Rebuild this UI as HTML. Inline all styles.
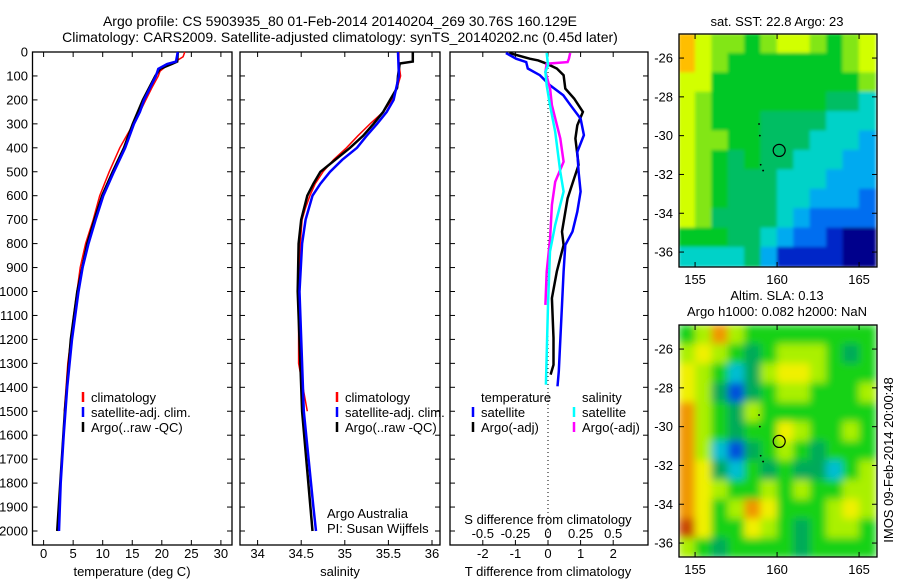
<!DOCTYPE html>
<html><head><meta charset="utf-8"><style>
body{margin:0;background:#fff;}
svg text{font-family:"Liberation Sans",sans-serif;fill:#000;}
</style></head><body>
<svg id="fig" width="900" height="580" viewBox="0 0 900 580" xmlns="http://www.w3.org/2000/svg">
<defs>
<filter id="blur1" x="0" y="0" width="1" height="1"><feGaussianBlur stdDeviation="1.5" edgeMode="duplicate"/></filter>
<filter id="blur2" x="0" y="0" width="1" height="1"><feGaussianBlur stdDeviation="4" edgeMode="duplicate"/></filter>
<clipPath id="clipM1"><rect x="679" y="34" width="198" height="233"/></clipPath>
<clipPath id="clipM2"><rect x="679" y="325" width="198" height="232"/></clipPath>
</defs>
<text x="340" y="26" font-size="14" text-anchor="middle">Argo profile: CS 5903935_80 01-Feb-2014 20140204_269 30.76S 160.129E</text>
<text x="340" y="42" font-size="14" text-anchor="middle">Climatology: CARS2009. Satellite-adjusted climatology: synTS_20140202.nc (0.45d later)</text>
<g id="g"></g>
</svg>
<script>
// ---------- data ----------
const tClimDepth=[0,20,40,60,80,100,150,200,250,300,400,500,600,700,800,900,1000,1100,1200,1300,1400,1500];
const tClim=[23.9,23.6,22.3,20.7,19.7,19.4,18.3,17.3,16.3,15.2,12.9,11.1,9.5,8.4,7.1,6.2,5.65,5.1,4.6,4.1,3.8,3.5];
const tSatDepth=[0,40,50,70,100,150,200,250,300,400,500,600,700,800,900,1000,1200,1400,1600,1800,2000];
const tSat=[22.7,22.4,20.9,19.4,19.0,18.0,17.0,16.3,15.3,13.8,11.9,10.1,8.8,7.6,6.6,5.9,4.8,4.0,3.4,2.9,2.6];
const tArgoDepth=[0,40,50,70,100,200,300,400,500,600,700,800,1000,1200,1500,2000];
const tArgo=[22.7,22.6,21.7,19.7,18.9,16.8,15.1,13.6,11.7,9.9,8.6,7.4,5.7,4.6,3.6,2.3];
const sClimDepth=[0,50,100,150,200,250,300,350,400,450,500,550,600,650,700,800,900,1000,1300,1500];
const sClim=[35.62,35.62,35.64,35.60,35.54,35.44,35.29,35.15,35.02,34.87,34.75,34.66,34.60,34.55,34.51,34.49,34.48,34.47,34.47,34.57];
const sArgoDepth=[0,40,48,100,150,200,250,300,350,400,450,500,550,600,700,800,1000,1500,2000];
const sArgo=[35.78,35.78,35.63,35.61,35.60,35.52,35.44,35.33,35.21,35.06,34.89,34.72,34.64,34.57,34.50,34.47,34.46,34.51,34.63];
const sSatDepth=[0,100,200,250,300,350,400,450,500,550,600,700,800,1000,1500,1900,2000];
const sSat=[35.61,35.62,35.56,35.48,35.37,35.25,35.14,34.97,34.83,34.72,34.63,34.55,34.51,34.48,34.53,34.64,34.67];
const dTsatDepth=[4,28,42,69,97,139,181,222,278,347,417,500,583,667,750,806,917,1056,1194,1333,1396];
const dTsat=[-1.29,-0.98,-0.67,-0.62,-0.25,0.06,0.47,0.69,1.0,1.1,0.9,0.94,1.0,0.9,0.75,0.53,0.48,0.43,0.38,0.33,0.29];
const dTargoDepth=[4,28,35,49,69,97,153,194,250,306,361,472,528,611,750,806,917,1028,1194,1306,1347];
const dTargo=[-1.19,-0.56,-0.3,-0.04,0.27,0.48,0.53,0.8,1.07,0.9,0.84,0.94,0.8,0.6,0.43,0.48,0.27,0.12,0.17,0.17,0.08];
const dSsatDepth=[4,56,83,139,222,333,500,583,722,833,1056,1389];
const dSsat=[-0.01,0,-0.02,-0.01,0.015,0.055,0.094,0.12,0.055,0.015,0,-0.016];
const dSargoDepth=[4,28,42,49,83,153,222,361,458,542,639,778,917,1056];
const dSargo=[0.17,0.16,0.15,-0.01,-0.02,0.016,0.03,0.094,0.12,0.055,0.03,0.016,-0.01,-0.02];
const depthTicks=[0,100,200,300,400,500,600,700,800,900,1000,1100,1200,1300,1400,1500,1600,1700,1800,1900,2000];
const tempTicks=[0,5,10,15,20,25,30];
const salTicks=[34,34.5,35,35.5,36];
const dTTicks=[-2,-1,0,1,2];
const dSTicks=[-0.5,-0.25,0,0.25,0.5];
const latTicks=[-26,-28,-30,-32,-34,-36];
const lonTicks=[155,160,165];
const sstGrid=[
[9,8,7,7,6,7,8,8,7,6,7,8],
[9,8,7,6,6,6,6,6,6,6,7,8],
[8,8,6,6,6,6,6,6,6,6,6,7],
[8,7,6,6,6,6,6,6,6,5,5,4],
[8,7,6,6,6,5,5,5,5,4,4,4],
[8,7,7,6,6,5,5,5,4,4,4,3],
[8,7,6,5,6,5,5,4,4,4,3,3],
[8,7,6,5,5,5,4,4,4,3,3,3],
[8,7,6,5,5,5,4,4,3,3,3,2],
[8,7,5,5,5,5,4,3,2,2,2,2],
[6,6,6,5,5,4,3,2,2,1,0,0],
[4,4,4,4,5,3,1,1,1,1,0,0]];
const slaGrid=[
[3,4,6,4,3,3,3,3,3,3,3,3],
[4,5,4,3,2,3,4,4,4,3,2,3],
[5,4,3,1,2,4,5,5,4,3,3,3],
[5,4,2,0,2,3,4,4,3,3,3,4],
[6,4,3,2,4,3,3,3,3,3,3,3],
[6,4,3,2,3,3,5,4,3,3,4,3],
[6,4,1,0,2,3,4,3,2,3,3,3],
[6,5,2,1,3,2,3,2,2,1,3,4],
[6,5,4,3,3,4,3,4,3,3,4,4],
[6,5,3,4,6,5,3,3,3,4,5,4],
[7,5,3,3,5,4,3,2,3,4,4,3],
[4,3,2,3,3,3,3,2,3,3,3,3]];
const argoLon=160.129, argoLat=-30.76;

// ---------- axes ----------
const NS="http://www.w3.org/2000/svg";
const G=document.getElementById('g');
function el(tag,attrs,parent){const e=document.createElementNS(NS,tag);for(const k in attrs)e.setAttribute(k,attrs[k]);(parent||G).appendChild(e);return e;}
const TOP=52, BOT=545;
const yD=d=>TOP+d*0.2395;
const xT=t=>43.6+t*5.91;
const xS=s=>257.6+(s-34)*87.2;
const xDT=t=>548+t*32.6;
const xDS=s=>548+s*130.4;
const panels=[[32.5,232],[240,440],[450,648]];

function line(xs,ds,fx,color,w,name){
  const pts=xs.map((v,i)=>fx(v).toFixed(1)+','+yD(ds[i]).toFixed(1)).join(' ');
  const p=el('polyline',{points:pts,fill:'none',stroke:color,'stroke-width':w});
  
  
}
function frame(x0,x1,name){
  const r=el('rect',{x:x0,y:TOP,width:x1-x0,height:BOT-TOP,fill:'none',stroke:'#000','stroke-width':1.3});
  
  
  depthTicks.forEach(d=>{el('line',{x1:x0,x2:x0+5,y1:yD(d),y2:yD(d),stroke:'#000'});el('line',{x1:x1-5,x2:x1,y1:yD(d),y2:yD(d),stroke:'#000'});});
}
function xticks(vals,fx,labels,name){
  vals.forEach((v,i)=>{const x=fx(v);
    el('line',{x1:x,x2:x,y1:TOP,y2:TOP+5,stroke:'#000'});el('line',{x1:x,x2:x,y1:BOT-5,y2:BOT,stroke:'#000'});
    const t=el('text',{x:x,y:558,'font-size':13,'text-anchor':'middle'});t.textContent=labels?labels[i]:v;
    
    });
}
frame(...panels[0],'temperature-panel');
frame(...panels[1],'salinity-panel');
frame(...panels[2],'difference-panel');
depthTicks.forEach(d=>{const t=el('text',{x:28,y:yD(d)+4.5,'font-size':13,'text-anchor':'end'});t.textContent=d;
  
  });
xticks(tempTicks,xT,null,'temperature-tick-label');
xticks(salTicks,xS,null,'salinity-tick-label');
xticks(dTTicks,xDT,null,'t-diff-tick-label');
dSTicks.forEach(v=>{const t=el('text',{x:xDS(v),y:538,'font-size':13,'text-anchor':'middle'});t.textContent=v;
  
  });
function txt(x,y,s,name,size,anchor){const t=el('text',{x:x,y:y,'font-size':size||13,'text-anchor':anchor||'start'});t.textContent=s;
  
  return t;}
txt(132,576,'temperature (deg C)','temperature-axis-title',13,'middle');
txt(340,576,'salinity','salinity-axis-title',13,'middle');
txt(548,576,'T difference from climatology','t-diff-axis-title',13,'middle');
txt(548,524,'S difference from climatology','s-diff-axis-title',13,'middle');
txt(327,518,'Argo Australia','argo-australia-label');
txt(327,533,'PI: Susan Wijffels','pi-label');
const z=el('line',{x1:548,x2:548,y1:TOP,y2:BOT,stroke:'#000','stroke-dasharray':'1,3'});



line(tClim,tClimDepth,xT,'#f00',1.5,'temperature-climatology-line');
line(tArgo,tArgoDepth,xT,'#000',2.5,'temperature-argo-line');
line(tSat,tSatDepth,xT,'#00f',2.5,'temperature-satellite-line');
line(sClim,sClimDepth,xS,'#f00',1.5,'salinity-climatology-line');
line(sArgo,sArgoDepth,xS,'#000',2.5,'salinity-argo-line');
line(sSat,sSatDepth,xS,'#00f',2.5,'salinity-satellite-line');
line(dTargo,dTargoDepth,xDT,'#000',2.5,'t-diff-argo-line');
line(dTsat,dTsatDepth,xDT,'#00f',2.5,'t-diff-satellite-line');
line(dSargo,dSargoDepth,xDS,'#f0f',2.5,'s-diff-argo-line');
line(dSsat,dSsatDepth,xDS,'#0ff',2.5,'s-diff-satellite-line');

function leg(x,y,color,label,name){
  const m=el('line',{x1:x,x2:x,y1:y-10,y2:y,stroke:color,'stroke-width':2.5});
  
  
  txt(x+8,y,label,name);
}
leg(83,402,'#f00','climatology','legend-climatology');
leg(83,417,'#00f','satellite-adj. clim.','legend-satellite-adj');
leg(83,432,'#000','Argo(..raw -QC)','legend-argo');
leg(337,402,'#f00','climatology','legend2-climatology');
leg(337,417,'#00f','satellite-adj. clim.','legend2-satellite-adj');
leg(337,432,'#000','Argo(..raw -QC)','legend2-argo');
txt(481,402,'temperature','legend-temperature-header');
leg(473,417,'#00f','satellite','legend-t-satellite');
leg(473,432,'#000','Argo(-adj)','legend-t-argo');
txt(582,402,'salinity','legend-salinity-header');
leg(574,417,'#0ff','satellite','legend-s-satellite');
leg(574,432,'#f0f','Argo(-adj)','legend-s-argo');

// ---------- maps ----------
const LON0=154.02, LAT0=-24.76;
const sstCols=['#00008c','#0028c8','#006ef0','#00aaf0','#00d2c8','#00be64','#00c828','#82e614','#d2ff00','#ffbe00'];
const slaCols=['#0050dc','#00bed2','#00aa5a','#14d214','#aaf000','#f0f000','#f09600','#c84600'];
function map(grid,cols,top,clip,filt,name){
  const xL=lon=>679+(lon-LON0)*16.4;
  const yL=lat=>top+(LAT0-lat)*19.4;
  const wrap=el('g',{'clip-path':'url(#'+clip+')'});
  const g=el('g',{filter:'url(#'+filt+')'},wrap);
  grid.forEach((row,r)=>row.forEach((v,c)=>{
    const lon=LON0+c, lat=LAT0-r;
    const cell=el('rect',{x:xL(lon)-0.5,y:yL(lat)-0.5,width:17.4,height:20.4,fill:cols[v]},g);
    
    
  }));
  const h=(top==34?233:232);
  const f=el('rect',{x:679,y:top,width:198,height:h,fill:'none',stroke:'#000','stroke-width':1.3});
  
  
  const bottom=top+h;
  latTicks.forEach(l=>{const y=yL(l);
    el('line',{x1:679,x2:684,y1:y,y2:y,stroke:'#000'});el('line',{x1:872,x2:877,y1:y,y2:y,stroke:'#000'});
    txt(673,y+4.5,l,name+'-lat-label',13,'end');});
  lonTicks.forEach(l=>{const x=xL(l);
    el('line',{x1:x,x2:x,y1:top,y2:top+5,stroke:'#000'});el('line',{x1:x,x2:x,y1:bottom-5,y2:bottom,stroke:'#000'});
    txt(x,bottom+17,l,name+'-lon-label',13,'middle');});
  [[158.9,-29.4],[158.95,-30.0],[159.0,-31.5],[159.15,-31.8]].forEach(p=>el('circle',{cx:xL(p[0]),cy:yL(p[1]),r:0.9,fill:'#000'}));
  const c=el('circle',{cx:xL(argoLon),cy:yL(argoLat),r:6,fill:'none',stroke:'#000','stroke-width':1.2});
  
  
}
map(sstGrid,sstCols,34,'clipM1','blur1','sst-map');
map(slaGrid,slaCols,325,'clipM2','blur2','sla-map');
txt(777,26,'sat. SST: 22.8 Argo: 23','sst-map-title',13,'middle');
txt(777,300,'Altim. SLA: 0.13','sla-map-title',13,'middle');
txt(777,316,'Argo h1000: 0.082 h2000: NaN','sla-map-subtitle',13,'middle');
const im=txt(0,0,'IMOS 09-Feb-2014 20:00:48','imos-timestamp',13,'middle');
im.setAttribute('transform','translate(893,460) rotate(-90)');
</script>
</body></html>
